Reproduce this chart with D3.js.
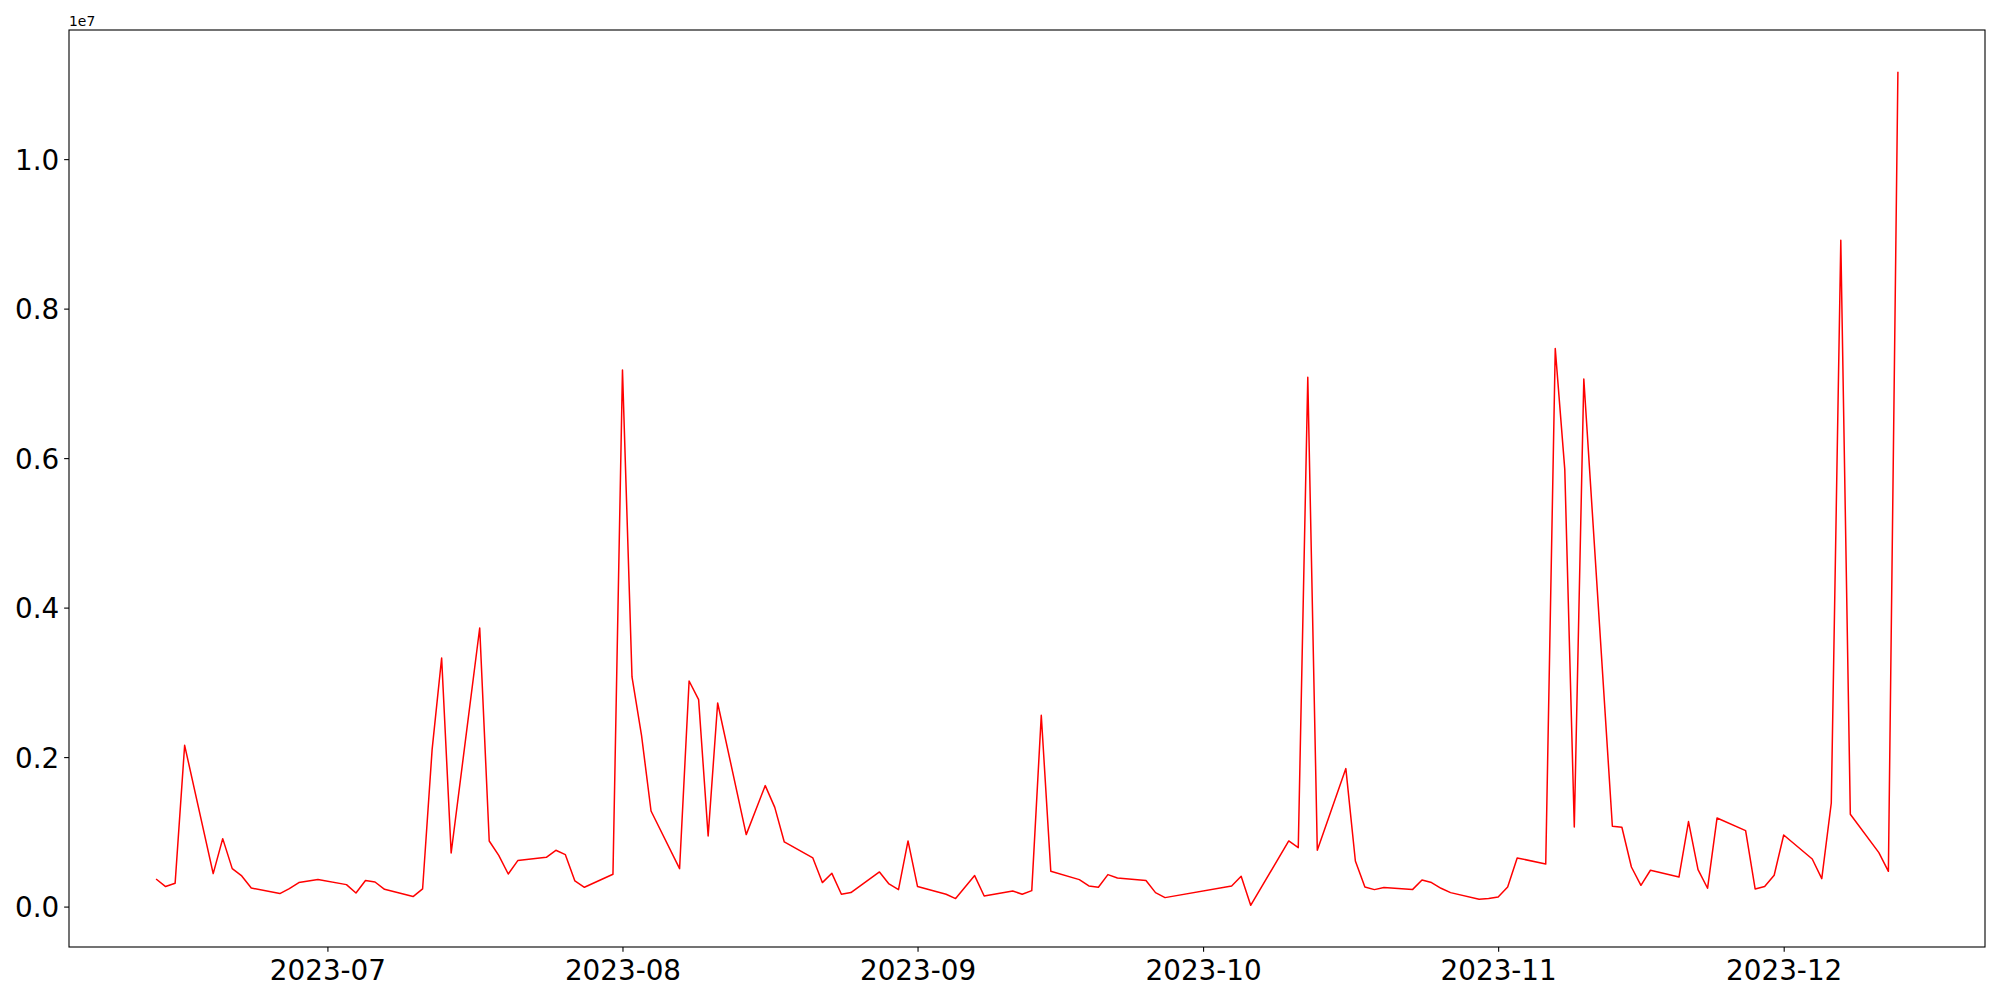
<!DOCTYPE html>
<html>
<head>
<meta charset="utf-8">
<script src="https://d3js.org/d3.v7.min.js"></script>
<style>
  body { margin: 0; background: #fff; }
  text { font-family: "DejaVu Sans", sans-serif; }
</style>
</head>
<body>
<div id="graph"></div>
<script>
// dates of the series (weekdays, with gaps)
var dates = [
  "2023-06-13","2023-06-14","2023-06-15","2023-06-16","2023-06-19","2023-06-20","2023-06-21","2023-06-22","2023-06-23",
  "2023-06-26","2023-06-27","2023-06-28","2023-06-30","2023-07-03","2023-07-04","2023-07-05","2023-07-06","2023-07-07",
  "2023-07-10","2023-07-11","2023-07-12","2023-07-13","2023-07-14","2023-07-17","2023-07-18","2023-07-19","2023-07-20",
  "2023-07-21","2023-07-24","2023-07-25","2023-07-26","2023-07-27","2023-07-28","2023-07-31","2023-08-01","2023-08-02",
  "2023-08-03","2023-08-04","2023-08-07","2023-08-08","2023-08-09","2023-08-10","2023-08-11","2023-08-14","2023-08-16",
  "2023-08-17","2023-08-18","2023-08-21","2023-08-22","2023-08-23","2023-08-24","2023-08-25","2023-08-28","2023-08-29",
  "2023-08-30","2023-08-31","2023-09-01","2023-09-04","2023-09-05","2023-09-07","2023-09-08","2023-09-11","2023-09-12",
  "2023-09-13","2023-09-14","2023-09-15","2023-09-18","2023-09-19","2023-09-20","2023-09-21","2023-09-22","2023-09-25",
  "2023-09-26","2023-09-27","2023-10-04","2023-10-05","2023-10-06","2023-10-10","2023-10-11","2023-10-12","2023-10-13",
  "2023-10-16","2023-10-17","2023-10-18","2023-10-19","2023-10-20","2023-10-23","2023-10-24","2023-10-25","2023-10-26",
  "2023-10-27","2023-10-30","2023-10-31","2023-11-01","2023-11-02","2023-11-03","2023-11-06","2023-11-07","2023-11-08",
  "2023-11-09","2023-11-10","2023-11-13","2023-11-14","2023-11-15","2023-11-16","2023-11-17","2023-11-20","2023-11-21",
  "2023-11-22","2023-11-23","2023-11-24","2023-11-27","2023-11-28","2023-11-29","2023-11-30","2023-12-01","2023-12-04",
  "2023-12-05","2023-12-06","2023-12-07","2023-12-08","2023-12-11","2023-12-12","2023-12-13"
];

var values = [
  369000, 268000, 312000, 2158000, 441000, 909000, 508000, 410000, 249000,
  174000, 241000, 321000, 361000, 294000, 182000, 348000, 329000, 231000,
  134000, 236000, 2100000, 3326000, 717000, 3727000, 878000, 686000, 436000,
  615000, 659000, 753000, 695000, 343000, 258000, 432000, 7179000, 3072000,
  2292000, 1279000, 508000, 3018000, 2769000, 945000, 2724000, 963000, 1619000,
  1328000, 865000, 651000, 321000, 445000, 165000, 187000, 463000, 303000,
  227000, 878000, 268000, 165000, 107000, 415000, 142000, 209000, 165000,
  214000, 2559000, 472000, 361000, 276000, 258000, 428000, 383000, 348000,
  187000, 120000, 276000, 405000, 17000, 878000, 789000, 7081000, 753000,
  1846000, 610000, 262000, 227000, 254000, 227000, 356000, 321000, 245000,
  187000, 98000, 107000, 129000, 262000, 651000, 570000, 7465000, 5850000,
  1065000, 7058000, 1074000, 1061000, 530000, 285000, 486000, 396000, 1137000,
  495000, 245000, 1186000, 1017000, 236000, 268000, 419000, 958000, 637000,
  374000, 1386000, 8914000, 1235000, 722000, 472000, 11170000
];

var yTicks = [0, 2000000, 4000000, 6000000, 8000000, 10000000];
var yTickLabels = ["0.0", "0.2", "0.4", "0.6", "0.8", "1.0"];
var offsetLabel = "1e7";

// set the dimensions and margins of the graph
var margin = {top: 30, right: 15, bottom: 53, left: 69},
    width = 2000 - margin.left - margin.right,
    height = 1000 - margin.top - margin.bottom;

var svg = d3.select("#graph")
  .append("svg")
    .attr("width", 2000)
    .attr("height", 1000)
  .append("g")
    .attr("transform", "translate(" + margin.left + "," + margin.top + ")");

var parse = d3.utcParse("%Y-%m-%d");
var data = dates.map(function (d, i) {
  return {time: parse(d), value: values[i]};
});

// x axis with 5% padding like matplotlib
var tExt = d3.extent(data, function (d) { return d.time; });
var tPad = (tExt[1] - tExt[0]) * 0.05;
var x = d3.scaleUtc()
  .domain([new Date(+tExt[0] - tPad), new Date(+tExt[1] + tPad)])
  .range([0, width]);

var vExt = d3.extent(values);
var vPad = (vExt[1] - vExt[0]) * 0.05;
var y = d3.scaleLinear()
  .domain([vExt[0] - vPad, vExt[1] + vPad])
  .range([height, 0]);

var tickLen = 4.86;

var xAxis = svg.append("g")
  .attr("transform", "translate(0," + height + ")")
  .call(d3.axisBottom(x)
    .ticks(d3.utcMonth.every(1))
    .tickFormat(d3.utcFormat("%Y-%m"))
    .tickSize(tickLen)
    .tickSizeOuter(0));
xAxis.select(".domain").remove();
xAxis.selectAll("line").attr("stroke", "black").attr("stroke-width", 1.1);
xAxis.selectAll("text")
  .attr("y", 33)
  .attr("dy", null)
  .style("font-size", "27.8px")
  .style("font-family", "DejaVu Sans")
  .attr("fill", "black");

var yAxis = svg.append("g")
  .call(d3.axisLeft(y)
    .tickValues(yTicks)
    .tickFormat(function (d, i) { return yTickLabels[i]; })
    .tickSize(tickLen)
    .tickPadding(4.86)
    .tickSizeOuter(0));
yAxis.select(".domain").remove();
yAxis.selectAll("line").attr("stroke", "black").attr("stroke-width", 1.1);
yAxis.selectAll("text")
  .attr("dy", "0.37em")
  .style("font-size", "27.8px")
  .style("font-family", "DejaVu Sans")
  .attr("fill", "black");

// the line
var line = d3.line()
  .x(function (d) { return x(d.time); })
  .y(function (d) { return y(d.value); });

svg.append("path")
  .datum(data)
  .attr("d", line)
  .style("fill", "none")
  .style("stroke", "red")
  .style("stroke-width", 1.5)
  .style("stroke-linejoin", "round");

// frame
svg.append("rect")
  .attr("width", width)
  .attr("height", height)
  .style("fill", "none")
  .style("stroke", "black")
  .style("stroke-width", 1.1);

// offset text
svg.append("text")
  .attr("x", 0)
  .attr("y", -4)
  .style("font-size", "13.9px")
  .text(offsetLabel);
</script>
</body>
</html>
